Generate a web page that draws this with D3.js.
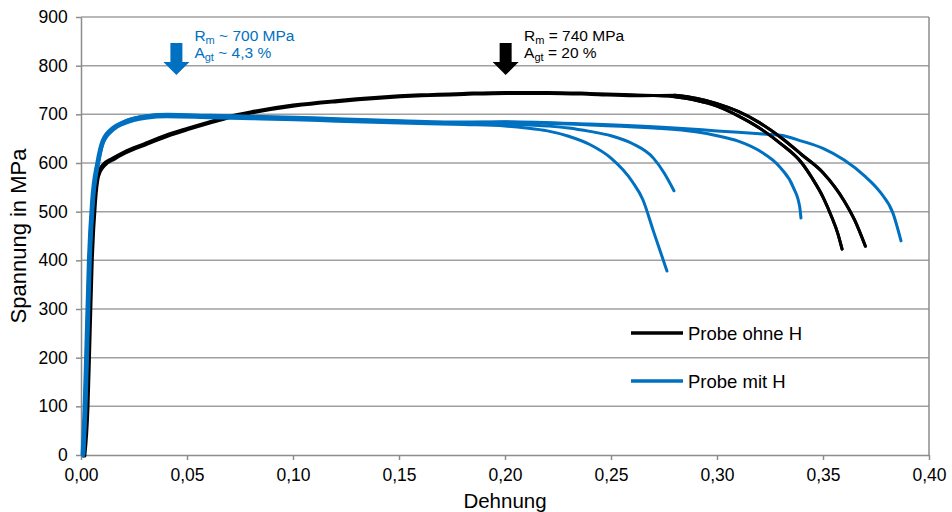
<!DOCTYPE html>
<html><head><meta charset="utf-8">
<script src="https://cdn.jsdelivr.net/npm/d3@7"></script>
<style>body{margin:0;background:#fff}svg{display:block;font-family:"Liberation Sans",Arial,sans-serif}</style>
</head><body><svg id="c" width="952" height="512"></svg>
<script>
// Data: strain (Dehnung) vs stress (Spannung in MPa)
const xTicks = [0,0.05,0.10,0.15,0.20,0.25,0.30,0.35,0.40];
const yTicks = [0,100,200,300,400,500,600,700,800,900];
const blackStart = [[0.001,0],[0.0025,100],[0.0035,250],[0.0045,400],[0.006,520],[0.0075,575],[0.010,595],[0.015,610],[0.02,622],[0.03,640],[0.04,657],[0.05,671],[0.06,684],[0.07,696],[0.08,705],[0.10,719],[0.12,728],[0.14,735],[0.16,740],[0.18,743],[0.20,745],[0.22,745],[0.24,743],[0.26,740]];
const ohneH1 = blackStart.concat([[0.28,736],[0.29,729],[0.30,717],[0.31,697],[0.32,672],[0.33,640],[0.34,600],[0.345,568],[0.350,530],[0.354,490],[0.357,455],[0.359,423]]);
const ohneH2 = blackStart.map(d=>[d[0]+0.0008,d[1]-2]).concat([[0.28,739],[0.29,733],[0.30,722],[0.31,706],[0.32,683],[0.33,653],[0.34,617],[0.35,580],[0.36,522],[0.365,482],[0.370,429]]);
const blueStart = [[0.0005,0],[0.0015,100],[0.0025,250],[0.0035,400],[0.005,520],[0.0075,600],[0.010,645],[0.015,672],[0.02,684],[0.03,695],[0.04,698],[0.06,696],[0.08,694],[0.10,692],[0.12,689],[0.15,685],[0.18,682]];
const mitH1 = blueStart.map(d=>[d[0]+0.0006,d[1]-3]).concat([[0.20,676],[0.21,672],[0.22,666],[0.23,655],[0.24,638],[0.25,610],[0.26,562],[0.265,525],[0.27,460],[0.2764,378]]);
const mitH2 = blueStart.map(d=>[d[0]+0.0003,d[1]-1]).concat([[0.20,680],[0.22,676],[0.23,672],[0.24,665],[0.25,656],[0.26,640],[0.27,610],[0.275,580],[0.2797,543]]);
const mitH3 = blueStart.map(d=>[d[0],d[1]+1]).concat([[0.20,684],[0.24,678],[0.27,672],[0.29,664],[0.30,656],[0.31,645],[0.32,625],[0.33,590],[0.336,550],[0.339,510],[0.3396,487]]);
const mitH4 = blueStart.map(d=>[d[0]+0.0009,d[1]+2]).concat([[0.20,685],[0.24,680],[0.28,672],[0.30,666],[0.32,660],[0.33,657],[0.34,645],[0.35,630],[0.36,606],[0.37,572],[0.377,540],[0.383,497],[0.3868,440]]);
const seriesNames = ["Probe ohne H","Probe mit H"];
const seriesColors = ["#000000","#0070C0"];

const svg = d3.select("#c");
const m = {l:81,r:23,t:17,b:57};
const W = 952, H = 512;
const x = d3.scaleLinear().domain([0,0.40]).range([m.l, W-m.r]);
const y = d3.scaleLinear().domain([0,900]).range([H-m.b, m.t]);
const fmt = d => d.toFixed(2).replace(".", ",");

// gridlines
svg.append("g").selectAll("line").data(yTicks.filter(d=>d>0)).join("line")
  .attr("x1",x(0)).attr("x2",x(0.40)).attr("y1",d=>y(d)).attr("y2",d=>y(d))
  .attr("stroke","#a0a0a0").attr("stroke-width",1.5);
// right border
svg.append("line").attr("x1",x(0.40)).attr("x2",x(0.40)).attr("y1",y(0)).attr("y2",y(900)).attr("stroke","#8c8c8c").attr("stroke-width",1.5);

const gx = svg.append("g").attr("transform",`translate(0,${y(0)})`)
  .call(d3.axisBottom(x).tickValues(xTicks).tickFormat(fmt).tickSize(5).tickSizeOuter(0));
const gy = svg.append("g").attr("transform",`translate(${x(0)},0)`)
  .call(d3.axisLeft(y).tickValues(yTicks).tickSize(5).tickSizeOuter(0));
[gx,gy].forEach(g=>{
  g.select(".domain").attr("stroke","#8c8c8c").attr("stroke-width",1.5);
  g.selectAll(".tick line").attr("stroke","#8c8c8c").attr("stroke-width",1.5);
  g.selectAll("text").attr("font-size",17.5).attr("fill","#000").attr("font-family","Liberation Sans, Arial, sans-serif");
});
gx.selectAll("text").attr("dy","1.0em");
gy.selectAll("text").attr("dx","-0.3em");

svg.append("text").attr("x",(x(0)+x(0.4))/2).attr("y",508).attr("text-anchor","middle").attr("font-size",20.5).text("Dehnung");
svg.append("text").attr("transform",`translate(26,${(y(0)+y(900))/2}) rotate(-90)`).attr("text-anchor","middle").attr("font-size",22).text("Spannung in MPa");

const line = d3.line().x(d=>x(d[0])).y(d=>y(d[1])).curve(d3.curveMonotoneX);
svg.append("g").selectAll("path").data([[ohneH1,0],[ohneH2,0],[mitH1,1],[mitH2,1],[mitH3,1],[mitH4,1]]).join("path")
  .attr("d",d=>line(d[0])).attr("fill","none").attr("stroke",d=>seriesColors[d[1]])
  .attr("stroke-width",3).attr("stroke-linejoin","round").attr("stroke-linecap","round");
// black top portion over blue in the right region
svg.append("g").selectAll("path").data([ohneH1,ohneH2]).join("path")
  .attr("d",d=>line(d.filter(p=>p[0]>=0.28))).attr("fill","none").attr("stroke","#000").attr("stroke-width",3).attr("stroke-linecap","round");

// legend
const lg = svg.append("g");
seriesNames.forEach((n,i)=>{
  const yy = 333 + i*48;
  lg.append("line").attr("x1",631).attr("x2",683).attr("y1",yy).attr("y2",yy).attr("stroke",seriesColors[i]).attr("stroke-width",3.5);
  lg.append("text").attr("x",688).attr("y",yy+6.5).attr("font-size",18.5).text(n);
});

// annotations
function arrow(cx, color){
  const p = [[cx-6,43],[cx+6,43],[cx+6,62],[cx+13,62],[cx,75],[cx-13,62],[cx-6,62]];
  svg.append("polygon").attr("points",p.map(d=>d.join(",")).join(" ")).attr("fill",color);
}
function note(tx, color, l1, l2){
  const t1 = svg.append("text").attr("x",tx).attr("y",41).attr("font-size",15.5).attr("fill",color);
  t1.append("tspan").text("R");
  t1.append("tspan").attr("font-size",11).attr("dy",3).text("m");
  t1.append("tspan").attr("dy",-3).text(l1);
  const t2 = svg.append("text").attr("x",tx).attr("y",58).attr("font-size",15.5).attr("fill",color);
  t2.append("tspan").text("A");
  t2.append("tspan").attr("font-size",11).attr("dy",3).text("gt");
  t2.append("tspan").attr("dy",-3).text(l2);
}
arrow(x(0.045),"#0070C0");
note(x(0.0535),"#0070C0"," ~ 700 MPa"," ~ 4,3 %");
arrow(x(0.2003),"#000");
note(x(0.209),"#000"," = 740 MPa"," = 20 %");
</script></body></html>
